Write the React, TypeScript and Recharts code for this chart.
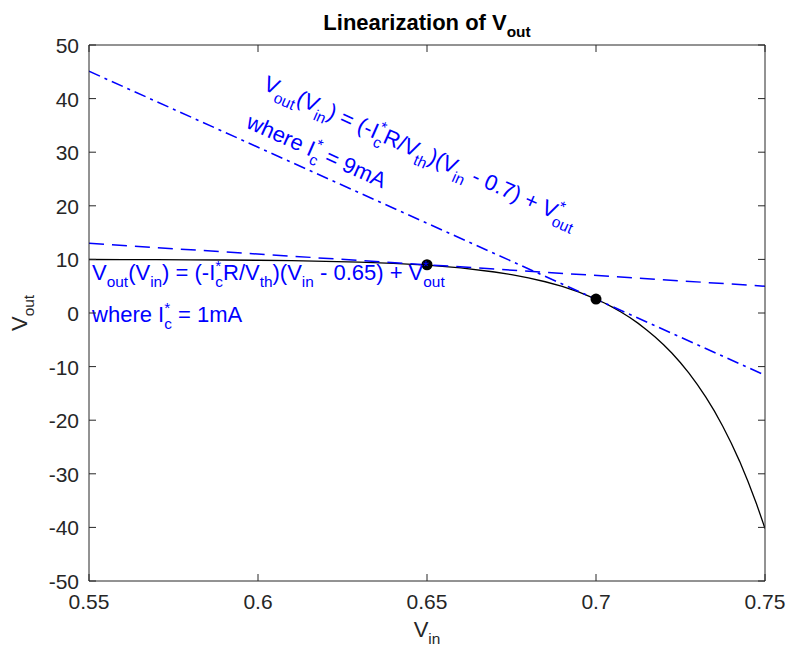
import React from 'react';
import { ComposedChart, Line, Scatter, XAxis, YAxis, ReferenceDot } from 'recharts';

// ---- data ----
const curveVin = [0.55, 0.56, 0.57, 0.58, 0.59, 0.6, 0.61, 0.62, 0.63, 0.64, 0.65, 0.66, 0.67, 0.675, 0.68, 0.685, 0.69, 0.695, 0.7, 0.7025, 0.705, 0.7075, 0.71, 0.7125, 0.715, 0.7175, 0.72, 0.7225, 0.725, 0.7275, 0.73, 0.7325, 0.735, 0.7375, 0.74, 0.7425, 0.745, 0.7475, 0.75];
const curveVout = [9.98, 9.97, 9.95, 9.93, 9.89, 9.84, 9.76, 9.65, 9.49, 9.26, 8.95, 8.4, 7.65, 7.16, 6.56, 5.83, 4.95, 3.89, 2.6, 1.86, 1.04, 0.14, -0.85, -1.94, -3.15, -4.46, -5.92, -7.52, -9.28, -11.22, -13.35, -15.69, -18.27, -21.12, -24.24, -27.68, -31.47, -35.63, -40.2];

const tan1Vin = [0.55, 0.75];
const tan1Vout = [13.0, 5.0];

const tan2Vin = [0.55, 0.75];
const tan2Vout = [45.1, -11.6];

const opVin = [0.65, 0.7];
const opVout = [9.0, 2.6];

const xTicks = [0.55, 0.6, 0.65, 0.7, 0.75];
const yTicks = [-50, -40, -30, -20, -10, 0, 10, 20, 30, 40, 50];

// annotation anchors (data coordinates)
const note1Anchor = { vin: 0.5509, vout: 6.2 };
const note2Anchor = { vin: 0.6012, vout: 41.8 };
const note2Angle = 24;

const zip = (xs: number[], ys: number[]) => xs.map((v, i) => ({ vin: v, vout: ys[i] }));
const curveData = zip(curveVin, curveVout);
const tan1Data = zip(tan1Vin, tan1Vout);
const tan2Data = zip(tan2Vin, tan2Vout);
const opData = zip(opVin, opVout);

const FONT = '"Liberation Sans", Arial, Helvetica, sans-serif';
const AX = '#262626';
const BLUE = '#0000ff';
const W = 786;
const H = 646;

type Seg = [string, 'n' | 'b' | 'p', number?];

function rich(segs: Seg[], fs: number) {
  const sub = fs * 0.33;
  const sup = fs * 0.42;
  const small = fs * 0.7;
  let cur = 0;
  return segs.map(([t, k, dx], i) => {
    const target = k === 'b' ? sub : k === 'p' ? -sup : 0;
    const dy = target - cur;
    cur = target;
    return (
      <tspan key={i} dy={dy} dx={dx || 0} fontSize={k === 'n' ? fs : small}>
        {t}
      </tspan>
    );
  });
}

const NFS = 22;
const STAR = 0.389 * NFS * 0.7;

const noteLine = (c: string): Seg[] => [
  ['V', 'n'], ['out', 'b'], ['(V', 'n'], ['in', 'b'], [') = (-I', 'n'], ['*', 'p'], ['c', 'b', -STAR],
  ['R/V', 'n'], ['th', 'b'], [')(V', 'n'], ['in', 'b'], [` - ${c}) + V`, 'n'], ['*', 'p'], ['out', 'b', -STAR],
];
const whereLine = (ma: string): Seg[] => [['where I', 'n'], ['*', 'p'], ['c', 'b', -STAR], [` = ${ma}`, 'n']];

const Note = ({ cx, cy, angle, c, ma }: any) => (
  <g transform={`translate(${cx},${cy}) rotate(${angle})`}>
    <text x={0} y={0} fill={BLUE} fontFamily={FONT} fontSize={NFS} style={{ whiteSpace: 'pre' }}>
      {rich(noteLine(c), NFS)}
    </text>
    <text x={0} y={42} fill={BLUE} fontFamily={FONT} fontSize={NFS} style={{ whiteSpace: 'pre' }}>
      {rich(whereLine(ma), NFS)}
    </text>
  </g>
);

const BottomTick = (p: any) => (
  <g>
    <line x1={p.x} y1={p.y} x2={p.x} y2={p.y - 7} stroke={AX} strokeWidth={1} />
    <text x={p.x} y={p.y + 28} textAnchor="middle" fontSize={21} fontFamily={FONT} fill={AX}>
      {String(p.payload.value)}
    </text>
  </g>
);
const TopTick = (p: any) => (
  <line x1={p.x} y1={p.y} x2={p.x} y2={p.y + 7} stroke={AX} strokeWidth={1} />
);
const LeftTick = (p: any) => (
  <g>
    <line x1={p.x} y1={p.y} x2={p.x + 7} y2={p.y} stroke={AX} strokeWidth={1} />
    <text x={p.x - 10} y={p.y + 8} textAnchor="end" fontSize={21} fontFamily={FONT} fill={AX}>
      {String(p.payload.value)}
    </text>
  </g>
);
const RightTick = (p: any) => (
  <line x1={p.x} y1={p.y} x2={p.x - 7} y2={p.y} stroke={AX} strokeWidth={1} />
);

const TitleLabel = (p: any) => {
  const vb = p.viewBox || { x: 89, y: 0, width: 676, height: 45 };
  return (
    <text x={vb.x + vb.width / 2} y={30} textAnchor="middle" fontFamily={FONT} fontSize={22} fontWeight="bold" fill="#000" style={{ whiteSpace: 'pre' }}>
      {rich([['Linearization of V', 'n'], ['out', 'b']], 22)}
    </text>
  );
};
const XLabel = (p: any) => {
  const vb = p.viewBox || { x: 89, y: 581, width: 676, height: 65 };
  return (
    <text x={vb.x + vb.width / 2} y={vb.y + 56} textAnchor="middle" fontFamily={FONT} fontSize={22} fill={AX}>
      {rich([['V', 'n'], ['in', 'b']], 22)}
    </text>
  );
};
const YLabel = (p: any) => {
  const vb = p.viewBox || { x: 0, y: 45, width: 89, height: 536 };
  const cx = 27;
  const cy = vb.y + vb.height / 2;
  return (
    <text x={cx} y={cy} transform={`rotate(-90, ${cx}, ${cy})`} textAnchor="middle" fontFamily={FONT} fontSize={22} fill={AX}>
      {rich([['V', 'n'], ['out', 'b']], 22)}
    </text>
  );
};

export default function App() {
  return (
    <div style={{ position: 'absolute', left: 0, top: 0, width: W, height: H, background: '#fff' }}>
      <ComposedChart width={W} height={H} margin={{ top: 0, right: 0, bottom: 0, left: 0 }}>
        <XAxis
          dataKey="vin"
          type="number"
          domain={[0.55, 0.75]}
          ticks={xTicks}
          interval={0}
          allowDataOverflow
          height={65}
          tickSize={0}
          tickMargin={0}
          tickLine={false}
          axisLine={{ stroke: AX, strokeWidth: 1 }}
          tick={BottomTick}
          label={{ content: XLabel }}
        />
        <XAxis
          xAxisId="top"
          orientation="top"
          dataKey="vin"
          type="number"
          domain={[0.55, 0.75]}
          ticks={xTicks}
          interval={0}
          allowDataOverflow
          height={45}
          tickSize={0}
          tickMargin={0}
          tickLine={false}
          axisLine={{ stroke: AX, strokeWidth: 1 }}
          tick={TopTick}
          label={{ content: TitleLabel }}
        />
        <YAxis
          type="number"
          domain={[-50, 50]}
          ticks={yTicks}
          interval={0}
          allowDataOverflow
          width={89}
          tickSize={0}
          tickMargin={0}
          tickLine={false}
          axisLine={{ stroke: AX, strokeWidth: 1 }}
          tick={LeftTick}
          label={{ content: YLabel }}
        />
        <YAxis
          yAxisId="right"
          orientation="right"
          type="number"
          domain={[-50, 50]}
          ticks={yTicks}
          interval={0}
          allowDataOverflow
          width={21}
          tickSize={0}
          tickMargin={0}
          tickLine={false}
          axisLine={{ stroke: AX, strokeWidth: 1 }}
          tick={RightTick}
        />
        <Line data={curveData} dataKey="vout" type="linear" stroke="#000" strokeWidth={1.3} dot={false} activeDot={false} isAnimationActive={false} />
        <Line data={tan1Data} dataKey="vout" type="linear" stroke={BLUE} strokeWidth={1.5} strokeDasharray="15 8" dot={false} activeDot={false} isAnimationActive={false} />
        <Line data={tan2Data} dataKey="vout" type="linear" stroke={BLUE} strokeWidth={1.5} strokeDasharray="12 5 3 5" dot={false} activeDot={false} isAnimationActive={false} />
        <Scatter data={opData} dataKey="vout" isAnimationActive={false} shape={(p: any) => <circle cx={p.cx} cy={p.cy} r={5.5} fill="#000" />} />
        <ReferenceDot x={note1Anchor.vin} y={note1Anchor.vout} r={0} ifOverflow="visible" shape={(p: any) => <Note cx={p.cx} cy={p.cy} angle={0} c="0.65" ma="1mA" />} />
        <ReferenceDot x={note2Anchor.vin} y={note2Anchor.vout} r={0} ifOverflow="visible" shape={(p: any) => <Note cx={p.cx} cy={p.cy} angle={note2Angle} c="0.7" ma="9mA" />} />
      </ComposedChart>
    </div>
  );
}
